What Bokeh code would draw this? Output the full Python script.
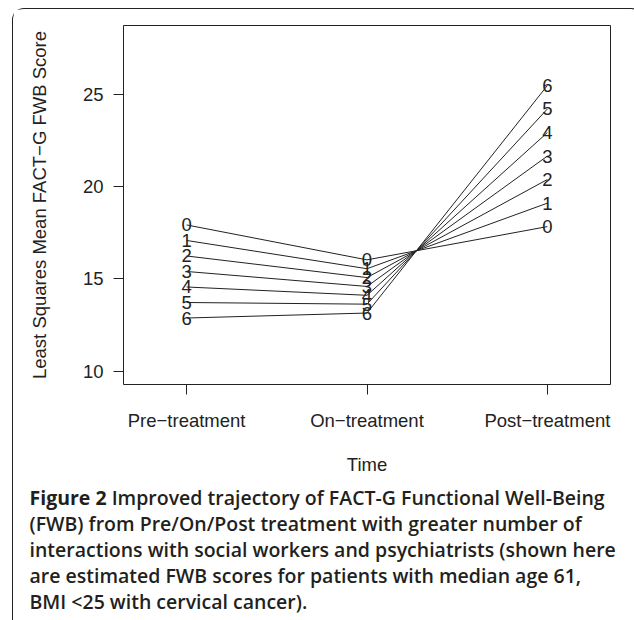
from bokeh.plotting import figure
from bokeh.layouts import column
from bokeh.models import Range1d, FixedTicker, ColumnDataSource, Div
from bokeh.core.properties import value
from bokeh.embed import file_html
from bokeh.resources import INLINE

# ---- data ----
interactions = ["0", "1", "2", "3", "4", "5", "6"]
time_labels = ["Pre\u2212treatment", "On\u2212treatment", "Post\u2212treatment"]
pre = [17.92, 17.08, 16.24, 15.40, 14.56, 13.72, 12.88]
on = [16.03, 15.55, 15.07, 14.59, 14.11, 13.63, 13.15]
post = [17.83, 19.10, 20.38, 21.65, 22.92, 24.20, 25.47]
y_ticks = [10, 15, 20, 25]
caption_head = "Figure 2"
caption = [
    " Improved trajectory of FACT-G Functional Well-Being",
    "(FWB) from Pre/On/Post treatment with greater number of",
    "interactions with social workers and psychiatrists (shown here",
    "are estimated FWB scores for patients with median age 61,",
    "BMI &lt;25 with cervical cancer).",
]

# geometry of the framed box on the page
OX, OY, BW = 12, 8, 1.5          # outer frame left/top and border width
IW = 619                         # inner width of the framed box
MH = 470                         # main figure height
CH = int(620 - OY - BW - MH)     # caption height

p = figure(width=IW, height=MH, output_backend="svg", toolbar_location=None,
           x_range=Range1d(0.65, 3.35), y_range=Range1d(9.28, 28.72),
           min_border_left=110, min_border_right=22, min_border_top=16,
           min_border_bottom=95)
p.grid.visible = False
p.outline_line_color = "#222222"
p.outline_line_width = 1
p.background_fill_color = "white"
p.border_fill_color = "white"

axis_font = "Liberation Sans"
for ax in (p.xaxis[0], p.yaxis[0]):
    ax.axis_line_color = None
    ax.major_tick_line_color = "#222222"
    ax.major_tick_out = 10
    ax.major_tick_in = 0
    ax.minor_tick_line_color = None
    ax.major_label_text_font = axis_font
    ax.major_label_text_font_size = "18.5px"
    ax.major_label_text_color = "#222222"
    ax.axis_label_text_font = axis_font
    ax.axis_label_text_font_size = "18.5px"
    ax.axis_label_text_font_style = "normal"
    ax.axis_label_text_color = "#222222"

p.xaxis.ticker = FixedTicker(ticks=[1, 2, 3])
p.xaxis.major_label_overrides = {1: time_labels[0], 2: time_labels[1], 3: time_labels[2]}
p.xaxis.major_label_standoff = 15
p.xaxis.axis_label = "Time"
p.xaxis.axis_label_standoff = 20

p.yaxis.ticker = FixedTicker(ticks=y_ticks)
p.yaxis.major_label_orientation = "horizontal"
p.yaxis.major_label_standoff = 10
p.yaxis.axis_label = "Least Squares Mean FACT\u2212G FWB Score"
p.yaxis.axis_label_standoff = 30

# lines and digit labels
for i, lab in enumerate(interactions):
    xs = [1, 2, 3]
    ys = [pre[i], on[i], post[i]]
    p.line(xs, ys, line_color="#222222", line_width=1)
    src = ColumnDataSource(dict(x=xs, y=ys, t=[lab] * 3))
    p.text(x="x", y="y", text="t", source=src, text_align="center",
           text_baseline="middle", text_font=value("Liberation Sans"),
           text_font_size="18.5px", text_color="#222222")

# caption below the chart
top_caption = OY + BW + MH
pad_top = 498 - top_caption - 18
html = ("<div style='white-space:nowrap'>"
        f"<span style='font-weight:700'>{caption_head}</span>"
        + "<br>".join(caption) + "</div>")
cap = Div(text=html, width=IW, height=CH,
          styles={"font-family": "'Open Sans', sans-serif",
                  "font-size": "19.5px", "font-weight": "600",
                  "line-height": "26px", "color": "#231f20",
                  "padding-left": f"{25 - OX - BW}px",
                  "padding-top": f"{pad_top}px",
                  "box-sizing": "border-box",
                  "overflow": "hidden"})

layout = column(p, cap, spacing=0, margin=(OY, 0, 0, OX),
                styles={"border-left": f"{BW}px solid #222222",
                        "border-top": f"{BW}px solid #222222",
                        "border-right": f"{BW}px solid #222222",
                        "border-bottom": "none",
                        "border-top-left-radius": "12px",
                        "border-top-right-radius": "12px",
                        "background-color": "white"})

open("out.html", "w").write(file_html(layout, INLINE))
